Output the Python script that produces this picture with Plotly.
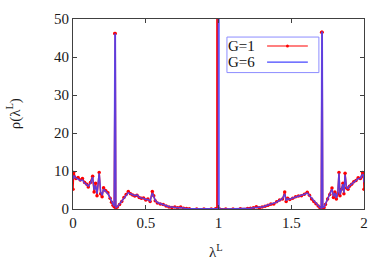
import plotly.graph_objects as go

# G=1 (red, points + line)
x_g1 = [0.000, 0.005, 0.02, 0.035, 0.05, 0.065, 0.08, 0.095, 0.105, 0.12, 0.135, 0.145, 0.155, 0.165,
        0.18, 0.19, 0.2, 0.21, 0.225, 0.24, 0.255, 0.265, 0.275, 0.283, 0.287, 0.290, 0.294, 0.305,
        0.32, 0.335, 0.35, 0.365, 0.38, 0.395, 0.41, 0.425, 0.44, 0.455, 0.47, 0.485, 0.5, 0.515,
        0.53, 0.545, 0.555, 0.565, 0.58, 0.6, 0.62, 0.64, 0.66, 0.68, 0.7, 0.72, 0.74, 0.76, 0.78,
        0.8, 0.85, 0.9, 0.95, 0.98, 0.989, 0.990, 0.993, 0.994, 1.005, 1.05, 1.1, 1.15, 1.2, 1.22,
        1.24, 1.26, 1.28, 1.3, 1.32, 1.34, 1.36, 1.38, 1.4, 1.42, 1.44, 1.455, 1.465, 1.475, 1.49,
        1.51, 1.53, 1.55, 1.57, 1.59, 1.61, 1.625, 1.64, 1.655, 1.67, 1.685, 1.698, 1.706, 1.709,
        1.712, 1.716, 1.725, 1.735, 1.75, 1.765, 1.78, 1.79, 1.8, 1.81, 1.82, 1.828, 1.835, 1.845,
        1.855, 1.862, 1.87, 1.88, 1.89, 1.9, 1.915, 1.93, 1.945, 1.96, 1.975, 1.99, 1.997, 2.0]
y_g1 = [5.2, 9.6, 8.0, 8.3, 7.6, 8.0, 7.0, 6.5, 5.8, 7.0, 8.6, 4.5, 6.8, 3.5,
        9.6, 4.0, 3.2, 5.6, 4.8, 4.3, 2.8, 1.8, 1.0, 0.6, 46.2, 46.2, 0.3, 0.5,
        1.2, 2.0, 3.0, 3.8, 4.6, 4.0, 3.7, 3.4, 3.6, 3.0, 2.8, 2.9, 2.4, 2.6,
        2.0, 4.6, 3.5, 2.2, 1.6, 1.3, 1.2, 0.8, 0.5, 0.4, 0.5, 0.3, 0.5, 0.2, 0.1,
        0.05, 0.02, 0.01, 0.02, 0.05, 0.1, 200, 200, 0.1, 0.05, 0.02, 0.02, 0.05, 0.1, 0.2,
        0.3, 0.6, 0.3, 0.5, 0.7, 1.0, 1.3, 1.3, 1.9, 2.4, 2.6, 4.5, 2.0, 2.8, 2.5,
        2.8, 3.2, 3.4, 3.5, 3.9, 4.4, 3.6, 2.6, 2.0, 1.4, 0.8, 0.3, 0.3, 46.5,
        46.5, 0.3, 0.4, 1.2, 2.6, 3.8, 5.5, 3.0, 4.5, 2.6, 4.0, 9.6, 3.5, 5.2,
        6.8, 4.0, 9.4, 5.5, 5.2, 6.0, 6.5, 7.2, 7.5, 8.2, 8.0, 9.6, 8.5, 5.2]

# G=6 (blue, line)
x_g6 = [0.000, 0.005, 0.02, 0.035, 0.05, 0.065, 0.08, 0.095, 0.105, 0.12, 0.135, 0.145, 0.155, 0.165,
        0.18, 0.19, 0.2, 0.21, 0.225, 0.24, 0.255, 0.265, 0.275, 0.283, 0.288, 0.291, 0.295, 0.305,
        0.32, 0.335, 0.35, 0.365, 0.38, 0.395, 0.41, 0.425, 0.44, 0.455, 0.47, 0.485, 0.5, 0.515,
        0.53, 0.545, 0.555, 0.565, 0.58, 0.6, 0.62, 0.64, 0.66, 0.68, 0.7, 0.72, 0.74, 0.76, 0.78,
        0.8, 0.85, 0.9, 0.95, 0.99, 0.999, 1.000, 1.003, 1.004, 1.01, 1.05, 1.1, 1.15, 1.2, 1.22,
        1.24, 1.26, 1.28, 1.3, 1.32, 1.34, 1.36, 1.38, 1.4, 1.42, 1.44, 1.455, 1.465, 1.475, 1.49,
        1.51, 1.53, 1.55, 1.57, 1.59, 1.61, 1.625, 1.64, 1.655, 1.67, 1.685, 1.698, 1.706, 1.710,
        1.713, 1.717, 1.725, 1.735, 1.75, 1.765, 1.78, 1.79, 1.8, 1.81, 1.82, 1.828, 1.835, 1.845,
        1.855, 1.862, 1.87, 1.88, 1.89, 1.9, 1.915, 1.93, 1.945, 1.96, 1.975, 1.99, 1.997, 2.0]
y_g6 = [7.8, 8.8, 8.2, 7.9, 7.5, 7.6, 6.8, 6.4, 6.0, 6.8, 8.4, 5.0, 6.2, 4.0,
        9.4, 4.5, 3.6, 5.2, 4.6, 4.0, 2.9, 2.0, 1.2, 0.7, 46.0, 46.0, 0.4, 0.6,
        1.3, 2.1, 3.0, 3.7, 4.3, 4.0, 3.8, 3.5, 3.7, 3.1, 2.9, 2.8, 2.5, 2.5,
        2.1, 4.2, 3.3, 2.3, 1.7, 1.4, 1.2, 0.9, 0.6, 0.5, 0.4, 0.3, 0.4, 0.2, 0.1,
        0.05, 0.02, 0.01, 0.02, 0.05, 0.1, 200, 200, 0.1, 0.05, 0.02, 0.02, 0.05, 0.1, 0.2,
        0.3, 0.4, 0.4, 0.5, 0.8, 1.0, 1.2, 1.4, 1.8, 2.3, 2.7, 4.0, 2.2, 2.7, 2.6,
        2.9, 3.1, 3.4, 3.6, 3.9, 4.2, 3.5, 2.7, 2.1, 1.5, 0.9, 0.4, 0.3, 46.5,
        46.5, 0.4, 0.5, 1.3, 2.5, 3.6, 5.2, 3.3, 4.2, 2.9, 4.3, 9.4, 3.8, 5.0,
        6.5, 4.3, 9.0, 5.6, 5.4, 6.1, 6.6, 7.0, 7.4, 8.0, 8.1, 9.2, 8.6, 7.0]

x_ticks = [0, 0.5, 1, 1.5, 2]
x_tick_labels = ["0", "0.5", "1", "1.5", "2"]
y_ticks = [0, 10, 20, 30, 40, 50]
y_tick_labels = ["0", "10", "20", "30", "40", "50"]

RED = "#ff0000"
BLUE = "rgb(70,70,255)"
FONT = "'Times New Roman', 'Liberation Serif', 'DejaVu Serif', serif"
TXT = "#1a1a1a"

fig = go.Figure()
fig.add_trace(go.Scatter(x=x_g1, y=y_g1, mode="lines+markers", name="G=1",
                         line=dict(color=RED, width=1.5),
                         marker=dict(color=RED, size=3.5), cliponaxis=True))
fig.add_trace(go.Scatter(x=x_g6, y=y_g6, mode="lines", name="G=6",
                         line=dict(color=BLUE, width=1.5), opacity=0.85, cliponaxis=True))

axis_common = dict(showgrid=False, zeroline=False, showline=True, linecolor="#404040",
                   linewidth=1, mirror="ticks", ticks="inside", ticklen=4,
                   tickcolor="#404040", tickfont=dict(family=FONT, size=15, color=TXT))

fig.update_xaxes(range=[0, 2], tickvals=x_ticks, ticktext=x_tick_labels, **axis_common)
fig.update_yaxes(range=[0, 50], tickvals=y_ticks, ticktext=y_tick_labels, **axis_common)

# axis titles
fig.add_annotation(x=0.492, y=-0.22, xref="paper", yref="paper", text="λ<sup>L</sup>",
                   showarrow=False, xanchor="center", yanchor="middle",
                   font=dict(family=FONT, size=15, color=TXT))
fig.add_annotation(x=-0.205, y=0.5, xref="paper", yref="paper", text="ρ(λ<sup>L</sup>)",
                   showarrow=False, xanchor="center", yanchor="middle", textangle=-90,
                   font=dict(family=FONT, size=15, color=TXT))

# gnuplot-style legend box (key) in paper coordinates
x0, x1 = 0.529, 0.845
fig.add_shape(type="rect", xref="paper", yref="paper", x0=x0, x1=x1, y0=0.718, y1=0.905,
              line=dict(color="rgb(140,140,255)", width=1), fillcolor="white", layer="above")
rows = [("G=1", RED, 0.858, True), ("G=6", BLUE, 0.773, False)]
for label, col, yy, mk in rows:
    fig.add_annotation(x=x0 - 0.002, y=yy, xref="paper", yref="paper", text=label,
                       showarrow=False, xanchor="left", yanchor="middle",
                       font=dict(family=FONT, size=15, color="#111"))
    fig.add_shape(type="line", xref="paper", yref="paper", x0=0.667, x1=0.807, y0=yy, y1=yy,
                  line=dict(color=col, width=1.2), layer="above")
    if mk:
        fig.add_shape(type="circle", xref="paper", yref="paper",
                      x0=0.737 - 0.005, x1=0.737 + 0.005, y0=yy - 0.008, y1=yy + 0.008,
                      line=dict(color=col, width=0), fillcolor=col, layer="above")

fig.update_layout(width=392, height=275, margin=dict(l=73, r=28, t=19, b=66),
                  paper_bgcolor="white", plot_bgcolor="white", showlegend=False,
                  font=dict(family=FONT, size=15, color=TXT))

fig.write_html("out.html", config={"displayModeBar": False},
               post_script="document.body.style.margin='0';document.body.style.padding='0';")
